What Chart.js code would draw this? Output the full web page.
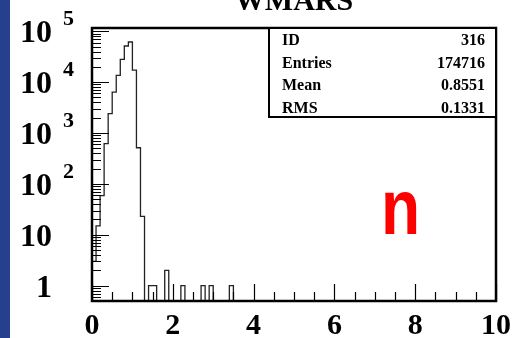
<!DOCTYPE html>
<html>
<head>
<meta charset="utf-8">
<script src="https://cdn.jsdelivr.net/npm/chart.js@4.4.1/dist/chart.umd.min.js"></script>
<style>
    html, body { margin: 0; padding: 0; background: #fff; }
    #contenedor { position: relative; width: 514px; height: 338px; }
</style>
</head>
<body>
<div id="contenedor"><canvas id="graficoWmars" width="514" height="338"></canvas></div>
<script>
// Histograma WMARS: borde inferior de cada bin (ancho 0.1) y su contenido
const binInicio = [0.0, 0.1, 0.2, 0.3, 0.4, 0.5, 0.6, 0.7, 0.8, 0.9,
                   1.0, 1.1, 1.2, 1.3, 1.4, 1.5, 1.6, 1.7, 1.8, 1.9,
                   2.0, 2.1, 2.2, 2.3, 2.4, 2.5, 2.6, 2.7, 2.8, 2.9,
                   3.0, 3.1, 3.2, 3.3, 3.4, 3.5];
const entradas = [3, 15, 59, 617, 2400, 6380, 13600, 28100, 51400, 61500,
                  17300, 514, 23, 0, 1, 1, 0, 0, 2, 0,
                  0, 0, 1, 0, 0, 0, 0, 1, 0, 1,
                  0, 0, 0, 0, 1, 0];

const xEtiquetas = [0, 2, 4, 6, 8, 10];
const yExponentes = [0, 1, 2, 3, 4, 5];
const statsNombres = ['ID', 'Entries', 'Mean', 'RMS'];
const statsValores = ['316', '174716', '0.8551', '0.1331'];
const titulo = 'WMARS';
const etiqueta = 'n';

const X_MIN = 0, X_MAX = 10;
const Y_MIN = 0.5, Y_MAX = 116000;

const SERIF = '"Liberation Serif", "DejaVu Serif", serif';

// Puntos del contorno (bins vacíos quedan sobre el eje)
const puntos = binInicio.map((x, i) => ({ x: x, y: entradas[i] > 0 ? entradas[i] : Y_MIN }));
puntos.push({ x: X_MAX, y: Y_MIN });

const decoracion = {
    id: 'decoracion',
    beforeDraw(chart) {
        const ctx = chart.ctx;
        ctx.save();
        ctx.fillStyle = '#fff';
        ctx.fillRect(0, 0, chart.width, chart.height);
        ctx.fillStyle = '#26408f';
        ctx.fillRect(0, 0, 10, chart.height);
        ctx.restore();
    },
    afterDraw(chart) {
        const ctx = chart.ctx;
        const area = chart.chartArea;
        const xs = chart.scales.x;
        const ys = chart.scales.y;
        ctx.save();

        // Titulo (cortado arriba)
        ctx.fillStyle = '#000';
        ctx.font = 'bold 30px ' + SERIF;
        ctx.textAlign = 'center';
        ctx.textBaseline = 'alphabetic';
        ctx.fillText(titulo, 294, 10);

        // Ticks eje Y (log)
        ctx.strokeStyle = '#000';
        ctx.lineWidth = 1.2;
        ctx.beginPath();
        for (let e = -1; e <= 5; e++) {
            for (let m = 1; m <= 9; m++) {
                const v = m * Math.pow(10, e);
                if (v < Y_MIN || v > Y_MAX) continue;
                const y = Math.round(ys.getPixelForValue(v)) + 0.5;
                const largo = m === 1 ? 17 : 9;
                ctx.moveTo(area.left, y);
                ctx.lineTo(area.left + largo, y);
            }
        }
        // Ticks eje X
        for (let i = 0; i < xEtiquetas.length; i++) {
            const x = Math.round(xs.getPixelForValue(xEtiquetas[i])) + 0.5;
            ctx.moveTo(x, area.bottom);
            ctx.lineTo(x, area.bottom - 17);
            if (i < xEtiquetas.length - 1) {
                const paso = (xEtiquetas[i + 1] - xEtiquetas[i]) / 4;
                for (let k = 1; k < 4; k++) {
                    const xm = Math.round(xs.getPixelForValue(xEtiquetas[i] + k * paso)) + 0.5;
                    ctx.moveTo(xm, area.bottom);
                    ctx.lineTo(xm, area.bottom - 9);
                }
            }
        }
        ctx.stroke();

        // Marco
        ctx.lineWidth = 2.5;
        ctx.strokeRect(area.left, area.top, area.right - area.left, area.bottom - area.top);

        // Etiquetas eje Y
        ctx.fillStyle = '#000';
        ctx.textAlign = 'right';
        ctx.textBaseline = 'alphabetic';
        yExponentes.forEach(e => {
            const y = ys.getPixelForValue(Math.pow(10, e));
            ctx.font = 'bold 32px ' + SERIF;
            if (e === 0) {
                ctx.fillText('1', 52, y + 11);
            } else {
                ctx.fillText('10', 52, y + 11);
                if (e > 1) {
                    ctx.font = 'bold 22px ' + SERIF;
                    ctx.textAlign = 'left';
                    ctx.fillText(String(e), 63, y - 6);
                    ctx.textAlign = 'right';
                }
            }
        });

        // Etiquetas eje X
        ctx.font = 'bold 30px ' + SERIF;
        ctx.textAlign = 'center';
        xEtiquetas.forEach(v => {
            ctx.fillText(String(v), xs.getPixelForValue(v), 334);
        });

        // Caja de estadisticas
        const caja = { left: 269, top: area.top, right: area.right, bottom: 117 };
        ctx.fillStyle = '#fff';
        ctx.fillRect(caja.left, caja.top, caja.right - caja.left, caja.bottom - caja.top);
        ctx.lineWidth = 2;
        ctx.strokeRect(caja.left, caja.top, caja.right - caja.left, caja.bottom - caja.top);
        ctx.fillStyle = '#000';
        ctx.font = 'bold 16px ' + SERIF;
        statsNombres.forEach((nombre, i) => {
            const yb = 45 + i * 22.5;
            ctx.textAlign = 'left';
            ctx.fillText(nombre, 282, yb);
            ctx.textAlign = 'right';
            ctx.fillText(statsValores[i], 485, yb);
        });

        // Etiqueta roja
        ctx.fillStyle = '#ff0000';
        ctx.font = 'bold 64px "Liberation Sans", Arial, sans-serif';
        ctx.textAlign = 'center';
        ctx.translate(400.5, 234);
        ctx.scale(1, 1.22);
        ctx.fillText(etiqueta, 0, 0);

        ctx.restore();
    }
};

new Chart(document.getElementById('graficoWmars'), {
    type: 'line',
    data: {
        datasets: [{
            label: titulo,
            data: puntos,
            stepped: true,
            borderColor: '#222',
            borderWidth: 1.3,
            pointRadius: 0,
            fill: false,
            tension: 0
        }]
    },
    options: {
        responsive: false,
        animation: false,
        layout: { padding: { left: 92, right: 18, top: 28, bottom: 37 } },
        plugins: {
            legend: { display: false },
            tooltip: { enabled: false }
        },
        scales: {
            x: { type: 'linear', min: X_MIN, max: X_MAX, display: false },
            y: { type: 'logarithmic', min: Y_MIN, max: Y_MAX, display: false }
        }
    },
    plugins: [decoracion]
});
</script>
</body>
</html>
